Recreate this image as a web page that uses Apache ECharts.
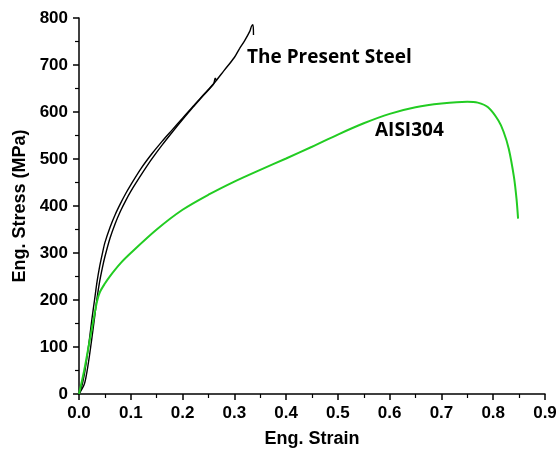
<!DOCTYPE html>
<html>
<head>
<meta charset="utf-8">
<script src="https://cdn.jsdelivr.net/npm/echarts@6/dist/echarts.min.js"></script>
<style>
html,body{margin:0;padding:0;background:#fff;}
#chart{width:556px;height:452px;}
</style>
</head>
<body>
<div id="chart"></div>
<script>
// present steel, specimen 1 (longer one)
var steelA = [[0,0],[0.005,15],[0.01,40],[0.015,75],[0.02,115],[0.025,160],[0.03,200],[0.035,240],[0.04,272],[0.045,298],[0.05,322],[0.06,355],[0.07,382],[0.08,405],[0.09,426],[0.1,445],[0.12,480],[0.14,510],[0.16,537],[0.18,562],[0.2,587],[0.22,612],[0.24,636],[0.26,660],[0.28,688],[0.3,716],[0.31,735],[0.32,752],[0.33,772],[0.333,782],[0.336,786],[0.337,764]];
// present steel, specimen 2
var steelB = [[0,0],[0.01,20],[0.015,45],[0.02,80],[0.025,120],[0.03,162],[0.035,205],[0.04,240],[0.045,268],[0.05,292],[0.06,332],[0.07,363],[0.08,389],[0.09,411],[0.1,431],[0.12,466],[0.14,499],[0.16,529],[0.18,557],[0.2,584],[0.22,610],[0.24,635],[0.26,660],[0.263,672],[0.266,667]];
// AISI304
var aisi = [[0,0],[0.01,50],[0.02,110],[0.03,170],[0.035,198],[0.04,216],[0.05,235],[0.06,251],[0.08,278],[0.1,300],[0.15,350],[0.2,392],[0.25,424],[0.3,452],[0.35,477],[0.4,501],[0.45,526],[0.5,552],[0.55,576],[0.6,596],[0.65,610],[0.7,618],[0.75,622],[0.77,620],[0.79,610],[0.81,582],[0.82,558],[0.83,522],[0.84,462],[0.845,415],[0.848,373]];

var myChart = echarts.init(document.getElementById('chart'));
var axisFont = {fontFamily:'Liberation Sans',fontWeight:'bold',fontSize:17,color:'#000'};
var nameFont = {fontFamily:'Liberation Sans',fontWeight:'bold',fontSize:18,color:'#000'};
var option = {
    animation:false,
    grid:{left:79,right:11,top:18,bottom:58,outerBoundsMode:'none'},
    xAxis:{
        type:'value',min:0,max:0.9,interval:0.1,
        name:'Eng. Strain',nameLocation:'middle',nameGap:36,
        nameTextStyle:nameFont,
        axisLine:{lineStyle:{color:'#000',width:1.5}},
        axisTick:{length:6,lineStyle:{color:'#000',width:1.5}},
        minorTick:{show:true,splitNumber:2,length:4,lineStyle:{color:'#000',width:1.2}},
        axisLabel:Object.assign({margin:11,formatter:function(v){return v.toFixed(1);}},axisFont),
        splitLine:{show:false}
    },
    yAxis:{
        type:'value',min:0,max:800,interval:100,
        name:'Eng. Stress (MPa)',nameLocation:'middle',nameGap:46,
        nameTextStyle:nameFont,
        axisLine:{show:true,lineStyle:{color:'#000',width:1.5}},
        axisTick:{show:true,length:6,lineStyle:{color:'#000',width:1.5}},
        minorTick:{show:true,splitNumber:2,length:4,lineStyle:{color:'#000',width:1.2}},
        axisLabel:Object.assign({margin:11},axisFont),
        splitLine:{show:false}
    },
    series:[
        {name:'The Present Steel',type:'line',data:steelA,showSymbol:false,smooth:0.3,
         lineStyle:{color:'#000',width:1.4}},
        {name:'The Present Steel 2',type:'line',data:steelB,showSymbol:false,smooth:0.3,
         lineStyle:{color:'#000',width:1.4}},
        {name:'AISI304',type:'line',data:aisi,showSymbol:false,smooth:0.3,
         lineStyle:{color:'#22cc22',width:2}}
    ],
    graphic:[
        {type:'text',x:247,y:58,style:{text:'The Present Steel',font:'bold 19px "Open Sans"',fill:'#000',verticalAlign:'middle'}},
        {type:'text',x:375,y:131,style:{text:'AISI304',font:'bold 19px "Open Sans"',fill:'#000',verticalAlign:'middle'}}
    ]
};
myChart.setOption(option);
</script>
</body>
</html>
